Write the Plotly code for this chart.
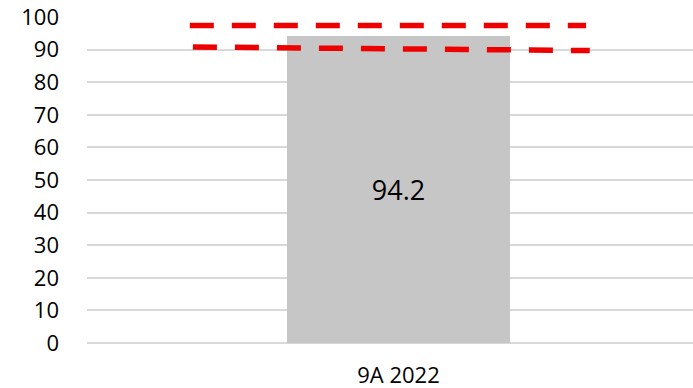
import plotly.graph_objects as go

categories = ["9A 2022"]
values = [94.2]
upper_target = [97.4, 97.4]
lower_target = [90.8, 89.7]
y_ticks = list(range(0, 101, 10))

# style constants
bar_width = 0.358
upper_span = [-0.335, 0.301]
lower_span = [-0.330, 0.307]
FONT = "Open Sans"

fig = go.Figure()
fig.add_trace(go.Bar(
    x=[0], y=values, width=bar_width,
    marker=dict(color="#c6c6c6", line=dict(width=0)),
    text=[f"{v:.1f}" for v in values], textposition="inside",
    insidetextanchor="middle", textangle=0,
    textfont=dict(family=FONT, size=27, color="#000000"),
    cliponaxis=False, showlegend=False,
))
fig.add_trace(go.Scatter(
    x=upper_span, y=upper_target, mode="lines",
    line=dict(color="#ee0000", width=5.5, dash="24px,18px"),
    showlegend=False, hoverinfo="skip",
))
fig.add_trace(go.Scatter(
    x=lower_span, y=lower_target, mode="lines",
    line=dict(color="#ee0000", width=5.5, dash="24px,18px"),
    showlegend=False, hoverinfo="skip",
))

fig.update_layout(
    width=693, height=388,
    margin=dict(l=87, r=0, t=17, b=45),
    paper_bgcolor="white", plot_bgcolor="white",
    font=dict(family=FONT, size=21, color="#000000"),
    xaxis=dict(range=[-0.5, 0.4727], tickvals=[0], ticktext=categories,
               showgrid=False, zeroline=False, showline=False,
               ticks="", ticklabelstandoff=17, tickfont=dict(size=22)),
    yaxis=dict(range=[0, 100], tickvals=y_ticks, showgrid=True,
               gridcolor="#d9d9d9", gridwidth=1.5,
               zeroline=True, zerolinecolor="#d9d9d9", zerolinewidth=1.5,
               showline=False, ticks="", ticklabelstandoff=27,
               tickfont=dict(size=22)),
)
fig.write_html("out.html")
